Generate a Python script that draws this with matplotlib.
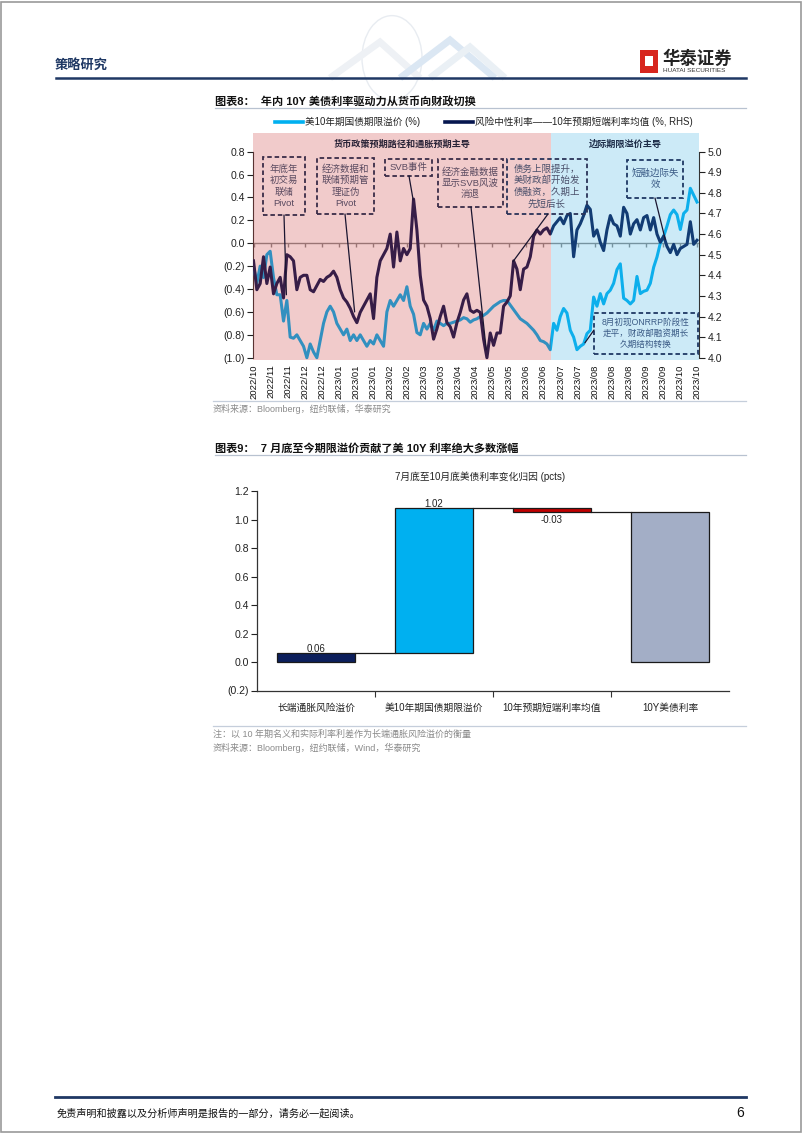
import numpy as np
import pandas as pd
import matplotlib
matplotlib.use("Agg")
import matplotlib.pyplot as plt
import matplotlib.dates as mdates
from matplotlib.patches import Rectangle, Circle, Polygon, ConnectionPatch
from matplotlib.lines import Line2D

plt.rcParams['font.family'] = ['Liberation Sans', 'Noto Sans CJK SC']
plt.rcParams['axes.unicode_minus'] = False

# ---------------- data ----------------
# US 10Y term premium (%), left axis
term_premium = [
    -0.20, -0.35, -0.20, -0.30, -0.10, -0.07, -0.30, -0.45, -0.45, -0.68,
    -0.50, -0.82, -0.83, -0.80, -0.85, -0.90, -1.00, -0.88, -0.95, -1.00,
    -0.85, -0.70, -0.60, -0.55, -0.60, -0.70, -0.75, -0.80, -0.75, -0.85,
    -0.80, -0.85, -0.80, -0.85, -0.90, -0.85, -0.88, -0.80, -0.85, -0.90,
    -0.60, -0.50, -0.55, -0.50, -0.45, -0.50, -0.38, -0.55, -0.62, -0.78,
    -0.80, -0.70, -0.75, -0.70, -0.76, -0.68, -0.70, -0.72, -0.70, -0.70,
    -0.69, -0.68, -0.67, -0.65, -0.66,
    -0.69, -0.67, -0.66, -0.64, -0.63, -0.61, -0.58, -0.55, -0.53, -0.51,
    -0.50, -0.50, -0.54, -0.58, -0.62, -0.66, -0.68, -0.70, -0.73, -0.76,
    -0.80, -0.85, -0.86, -0.88, -0.93, -0.70, -0.76, -0.64, -0.57, -0.61,
    -0.76, -0.82, -0.93, -0.90, -0.88, -0.79, -0.76, -0.47, -0.55, -0.44,
    -0.53, -0.44, -0.41, -0.35, -0.23, -0.18, -0.48, -0.50, -0.53, -0.50,
    -0.29, -0.44, -0.42, -0.41, -0.35, -0.21, -0.12, 0.00, 0.06, 0.15,
    0.25, 0.29, 0.25, 0.12, 0.26, 0.29, 0.48, 0.42, 0.36]
# risk-neutral rate: 10Y expected short-rate average (%, RHS)
neutral_rate = [
    4.47, 4.33, 4.36, 4.49, 4.36, 4.44, 4.31, 4.36, 4.39, 4.29,
    4.50, 4.49, 4.47, 4.33, 4.39, 4.40, 4.40, 4.33, 4.32, 4.35,
    4.38, 4.37, 4.39, 4.40, 4.42, 4.39, 4.33, 4.29, 4.27, 4.24,
    4.20, 4.17, 4.22, 4.25, 4.28, 4.31, 4.19, 4.39, 4.47, 4.50,
    4.53, 4.60, 4.44, 4.61, 4.47, 4.53, 4.50, 4.53, 4.77, 4.62,
    4.40, 4.28, 4.25, 4.19, 4.09, 4.14, 4.20, 4.25, 4.17, 4.15,
    4.10, 4.17, 4.22, 4.28, 4.31,
    4.23, 4.22, 4.23, 4.22, 4.09, 4.00, 4.12, 4.06, 4.12, 4.12,
    4.25, 4.27, 4.30, 4.47, 4.43, 4.33, 4.43, 4.44, 4.49, 4.59,
    4.62, 4.60, 4.62, 4.63, 4.60, 4.64, 4.66, 4.68, 4.65, 4.69,
    4.70, 4.49, 4.62, 4.65, 4.69, 4.74, 4.72, 4.59, 4.62, 4.56,
    4.52, 4.62, 4.69, 4.65, 4.64, 4.59, 4.73, 4.70, 4.60, 4.65,
    4.67, 4.62, 4.68, 4.69, 4.62, 4.68, 4.60, 4.56, 4.59, 4.54,
    4.51, 4.55, 4.50, 4.53, 4.54, 4.55, 4.66, 4.55, 4.57]
series_start = "2022-10-25"
series_end = "2023-10-24"
regime_split = "2023-06-26"
top_tick_labels = ["2022/10", "2022/11", "2022/11", "2022/12", "2022/12",
                   "2023/01", "2023/01", "2023/01", "2023/02", "2023/02",
                   "2023/03", "2023/03", "2023/04", "2023/04", "2023/05",
                   "2023/05", "2023/06", "2023/06", "2023/07", "2023/07",
                   "2023/08", "2023/08", "2023/08", "2023/09", "2023/09",
                   "2023/10", "2023/10"]
left_ticks = [0.8, 0.6, 0.4, 0.2, 0.0, -0.2, -0.4, -0.6, -0.8, -1.0]
left_tick_labels = ["0.8", "0.6", "0.4", "0.2", "0.0", "(0.2)", "(0.4)",
                    "(0.6)", "(0.8)", "(1.0)"]
right_ticks = [5.0, 4.9, 4.8, 4.7, 4.6, 4.5, 4.4, 4.3, 4.2, 4.1, 4.0]
legend_labels = ["美10年期国债期限溢价 (%)",
                 "风险中性利率——10年预期短端利率均值 (%, RHS)"]
regime_labels = ["货币政策预期路径和通胀预期主导", "边际期限溢价主导"]

wf_categories = ["长端通胀风险溢价", "美10年期国债期限溢价",
                 "10年预期短端利率均值", "10Y美债利率"]
wf_steps = [0.06, 1.02, -0.03]
wf_ticks = [1.2, 1.0, 0.8, 0.6, 0.4, 0.2, 0.0, -0.2]
wf_tick_labels = ["1.2", "1.0", "0.8", "0.6", "0.4", "0.2", "0.0", "(0.2)"]

# ---------------- figure helpers ----------------
W, H = 802, 1133
fig = plt.figure(figsize=(W / 100, H / 100), dpi=100)
fig.patch.set_facecolor("white")


def fx(x):
    return x / W


def fy(y):
    return 1 - y / H


def hline(x0, x1, y, color, lw):
    fig.add_artist(Line2D([fx(x0), fx(x1)], [fy(y), fy(y)], color=color, lw=lw,
                          transform=fig.transFigure))


LIGHT = "#00b0f0"
NAVY = "#06164f"

# page frame
fig.add_artist(Rectangle((0.0008, 0.0006), 0.998, 0.998, transform=fig.transFigure,
                         fill=False, ec="#9a9a9a", lw=1.2))

# ---------------- page header ----------------
fig.text(fx(55), fy(65), "策略研究", fontsize=9.5, color="#1f3864",
         fontweight="bold", va="center", ha="left")
hline(56, 746, 78, "#1f3864", 1.8)
# faint globe / chevrons decoration
fig.add_artist(Circle((fx(392), fy(58)), 30 / W, transform=fig.transFigure,
                      fill=False, ec="#e8ecf1", lw=1.0))
for pts, col in [([(330, 78), (380, 42), (420, 78)], "#eef1f5"),
                 ([(400, 78), (450, 40), (495, 78)], "#dbe7f3"),
                 ([(430, 78), (470, 47), (505, 78)], "#eaf0f5")]:
    fig.add_artist(Polygon([(fx(a), fy(b)) for a, b in pts], closed=False,
                           transform=fig.transFigure, fill=False, ec=col, lw=5))
fig.add_artist(Rectangle((fx(640), fy(73)), 18 / W, 23 / H, transform=fig.transFigure,
                         fc="#d7261e", ec="none"))
fig.add_artist(Rectangle((fx(645), fy(66)), 8 / W, 10 / H, transform=fig.transFigure,
                         fc="white", ec="none"))
fig.text(fx(662), fy(58), "华泰证券", fontsize=12.5, fontweight="bold",
         color="#222222", va="center", ha="left")
fig.text(fx(663), fy(70.5), "HUATAI SECURITIES", fontsize=4.6, color="#333333",
         va="center", ha="left")

# ---------------- chart 8 title ----------------
fig.text(fx(215), fy(101), "图表8：  年内 10Y 美债利率驱动力从货币向财政切换",
         fontsize=8, fontweight="bold", color="#111111", va="center", ha="left")
hline(215, 746, 108, "#b8c2d0", 0.9)

# ---------------- top chart ----------------
AX_L, AX_R, AX_T, AX_B = 253, 699, 133, 360
ax = fig.add_axes([fx(AX_L), fy(AX_B), (AX_R - AX_L) / W, (AX_B - AX_T) / H])
ax2 = ax.twinx()

dates = pd.date_range(series_start, series_end, periods=len(term_premium))
xd = mdates.date2num(dates)
tick_x = mdates.date2num(pd.date_range(series_start, periods=len(top_tick_labels),
                                       freq="14D"))
ppd = (697 - 253.5) / (xd[-1] - xd[0])
xlim = (xd[0] - 0.5 / ppd, xd[-1] + 2.0 / ppd)
split_x = mdates.date2num(pd.Timestamp(regime_split))

lo, hi = -1.02, 0.963
ax.set_xlim(*xlim)
ax.set_ylim(lo, hi)
ax2.set_ylim(4 + (lo + 1) / 1.8, 4 + (hi + 1) / 1.8)

ax.plot(xd, term_premium, color=LIGHT, lw=2.2, solid_joinstyle="round", zorder=3)
ax.axhline(0, color="#8a8a8a", lw=1.0, zorder=2)
ax.plot(tick_x, np.zeros(len(tick_x)), ls="none", marker=3, ms=3,
        color="#8a8a8a", mew=1.0, zorder=2)
ax2.plot(xd, neutral_rate, color=NAVY, lw=2.2, solid_joinstyle="round", zorder=3)

# regime shading drawn over the lines (translucent)
ax2.axvspan(xlim[0], split_x, color=(203 / 255, 51 / 255, 51 / 255), alpha=0.25,
            lw=0, zorder=5)
ax2.axvspan(split_x, xlim[1], color=(55 / 255, 175 / 255, 227 / 255), alpha=0.25,
            lw=0, zorder=5)

for a in (ax, ax2):
    a.spines["top"].set_visible(False)
    a.spines["bottom"].set_visible(False)
ax.spines["right"].set_visible(False)
ax2.spines["left"].set_visible(False)
ax.spines["left"].set_bounds(-1.0, 0.8)
ax2.spines["right"].set_bounds(4.0, 5.0)
ax.spines["left"].set_color("#333333")
ax2.spines["right"].set_color("#333333")

ax.set_yticks(left_ticks)
ax.set_yticklabels(left_tick_labels)
ax.tick_params(axis="y", length=4, width=0.8, pad=2, labelsize=7.6,
               colors="#222222", direction="out")
ax2.set_yticks(right_ticks)
ax2.set_yticklabels([f"{v:.1f}" for v in right_ticks])
ax2.tick_params(axis="y", length=4, width=0.8, pad=2, labelsize=7.6,
                colors="#222222", direction="out")
ax.set_xticks(tick_x)
ax.set_xticklabels(top_tick_labels, rotation=90)
ax.tick_params(axis="x", length=0, pad=3, labelsize=6.8, colors="#111111")
ax2.tick_params(axis="x", length=0)

# legend
handles = [Line2D([], [], color=LIGHT, lw=2.6), Line2D([], [], color=NAVY, lw=2.6)]
fig.legend(handles, legend_labels, loc="center", bbox_to_anchor=(fx(484), fy(122)),
           ncol=2, frameon=False, fontsize=6.9, handlelength=2.9,
           columnspacing=2.6, handletextpad=0.2, labelcolor="#222222")

# regime headers
fig.text(fx((AX_L + 551) / 2), fy(144), regime_labels[0], fontsize=6.6,
         fontweight="bold", color="#2a2438", ha="center", va="center", zorder=7)
fig.text(fx((551 + AX_R) / 2), fy(144), regime_labels[1], fontsize=6.6,
         fontweight="bold", color="#1c2c48", ha="center", va="center", zorder=7)

# annotation boxes
PINK_EC, PINK_TC = "#3a2c48", "#5a4a60"
BLUE_EC, BLUE_TC = "#1f3864", "#3a5a85"
notes = [
    dict(box=(263, 157, 305, 215), text="年底年\n初交易\n联储\nPivot", ec=PINK_EC,
         tc=PINK_TC, fs=6.8, anchor=(284, 215), target=("2022-11-21", -0.45)),
    dict(box=(317, 158, 374, 214), text="经济数据和\n联储预期管\n理证伪\nPivot",
         ec=PINK_EC, tc=PINK_TC, fs=6.8, anchor=(345, 214),
         target=("2023-01-16", -0.60)),
    dict(box=(385, 159, 432, 176), text="SVB事件", ec=PINK_EC, tc=PINK_TC, fs=6.8,
         anchor=(409, 176), target=("2023-03-05", 0.38)),
    dict(box=(438, 159, 503, 207), text="经济金融数据\n显示SVB风波\n消退",
         ec=PINK_EC, tc=PINK_TC, fs=6.8, anchor=(471, 207),
         target=("2023-05-04", -0.93)),
    dict(box=(507, 159, 587, 214), text="债务上限提升，\n美财政部开始发\n债融资，久期上\n先短后长",
         ec="#2a3358", tc="#4a4f6a", fs=6.8, anchor=(548, 214),
         target=("2023-05-26", -0.16)),
    dict(box=(627, 160, 683, 198), text="短融边际失\n效", ec=BLUE_EC, tc=BLUE_TC,
         fs=6.8, anchor=(655, 198), target=("2023-09-28", 0.03)),
    dict(box=(594, 313, 698, 354),
         text="8月初现ONRRP阶段性\n走平，财政部融资期长\n久期结构转换",
         ec=BLUE_EC, tc=BLUE_TC, fs=6.2, anchor=(594, 330),
         target=("2023-07-24", -0.87)),
]
for n in notes:
    x0, y0, x1, y1 = n["box"]
    fig.add_artist(Rectangle((fx(x0), fy(y1)), (x1 - x0) / W, (y1 - y0) / H,
                             transform=fig.transFigure, fill=False, ec=n["ec"],
                             lw=1.3, ls=(0, (2.5, 1.6)), zorder=6))
    fig.text(fx((x0 + x1) / 2), fy((y0 + y1) / 2), n["text"], fontsize=n["fs"],
             color=n["tc"], ha="center", va="center", linespacing=1.3, zorder=7)
    tdate, tval = n["target"]
    con = ConnectionPatch(xyA=(mdates.date2num(pd.Timestamp(tdate)), tval),
                          coordsA=ax.transData,
                          xyB=(fx(n["anchor"][0]), fy(n["anchor"][1])),
                          coordsB=fig.transFigure, color="#1a1530", lw=0.9,
                          zorder=6)
    fig.add_artist(con)

# source
hline(213, 746, 401, "#c5cedb", 0.9)
fig.text(fx(213), fy(409), "资料来源：Bloomberg，纽约联储，华泰研究", fontsize=6.5,
         color="#8a8a8a", ha="left", va="center")

# ---------------- chart 9 ----------------
fig.text(fx(215), fy(448), "图表9：  7 月底至今期限溢价贡献了美 10Y 利率绝大多数涨幅",
         fontsize=8, fontweight="bold", color="#111111", va="center", ha="left")
hline(215, 746, 455, "#b8c2d0", 0.9)
fig.text(fx(480), fy(477), "7月底至10月底美债利率变化归因 (pcts)", fontsize=7,
         color="#222222", ha="center", va="center")

BL, BR, BT, BB = 257, 729, 491, 690.5
bx = fig.add_axes([fx(BL), fy(BB), (BR - BL) / W, (BB - BT) / H])
cum = np.concatenate([[0.0], np.cumsum(wf_steps)])
total = cum[-1]
bottoms = list(cum[:-1]) + [0.0]
heights = list(wf_steps) + [total]
colors = ["#0c1f5c", "#00b0f0", "#c00000", "#a3aec6"]
bw = 0.667
xs = np.arange(len(wf_categories))
bx.bar(xs, heights, bottom=bottoms, width=bw, color=colors, edgecolor="#1a1a1a",
       linewidth=0.9, zorder=3)
for k in range(len(wf_steps)):
    lvl = cum[k + 1]
    bx.plot([k + bw / 2, k + 1 - bw / 2], [lvl, lvl], color="#1a1a1a", lw=0.9,
            zorder=2)
for k, v in enumerate(wf_steps):
    if v >= 0:
        bx.annotate(f"{v:.2f}", xy=(k, cum[k + 1]), xytext=(0, 4),
                    textcoords="offset pixels", ha="center", va="center",
                    fontsize=7, color="#222222", zorder=4)
    else:
        bx.annotate(f"{v:.2f}", xy=(k, cum[k + 1]), xytext=(0, -8),
                    textcoords="offset pixels", ha="center", va="center",
                    fontsize=7, color="#222222", zorder=4)
bx.set_xlim(-0.5, 3.5)
bx.set_ylim(-0.2, 1.2)
bx.set_yticks(wf_ticks)
bx.set_yticklabels(wf_tick_labels)
bx.set_xticks(xs)
bx.set_xticklabels(wf_categories)
bx.set_xticks(xs[:-1] + 0.5, minor=True)
bx.tick_params(axis="x", which="major", length=0, pad=9, labelsize=7,
               colors="#222222")
bx.tick_params(axis="x", which="minor", length=4, width=0.8, direction="out",
               color="#333333")
bx.tick_params(axis="y", length=4, width=0.8, pad=2, labelsize=7.6,
               colors="#222222")
for s in ("top", "right"):
    bx.spines[s].set_visible(False)
for s in ("left", "bottom"):
    bx.spines[s].set_color("#333333")
    bx.spines[s].set_linewidth(0.9)

hline(213, 746, 726, "#c5cedb", 0.9)
fig.text(fx(213), fy(734), "注：以 10 年期名义和实际利率利差作为长端通胀风险溢价的衡量",
         fontsize=6.5, color="#8a8a8a", ha="left", va="center")
fig.text(fx(213), fy(748), "资料来源：Bloomberg，纽约联储，Wind，华泰研究",
         fontsize=6.5, color="#8a8a8a", ha="left", va="center")

# ---------------- footer ----------------
hline(55, 746, 1097, "#1f3864", 2.0)
fig.text(fx(57), fy(1113), "免责声明和披露以及分析师声明是报告的一部分，请务必一起阅读。",
         fontsize=7.3, color="#111111", ha="left", va="center")
fig.text(fx(744), fy(1113), "6", fontsize=10, color="#111111", ha="right",
         va="center")

fig.savefig("out.png", dpi=100)
